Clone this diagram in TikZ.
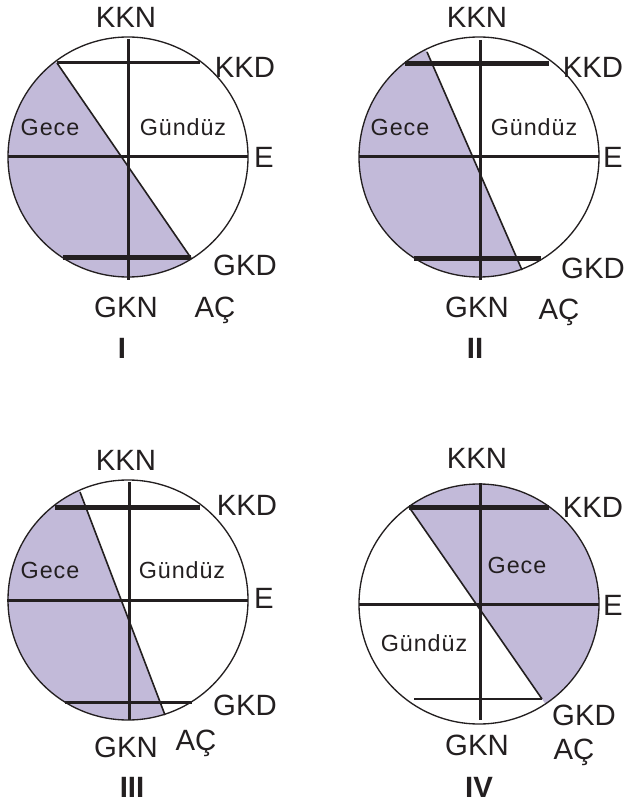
\documentclass[tikz,border=0pt]{standalone}
\usepackage{fontspec}
\setmainfont{Liberation Sans}
\usetikzlibrary{calc}
\definecolor{night}{RGB}{194,186,217}
\definecolor{ink}{RGB}{35,31,32}
\tikzset{
  lbl/.style={font=\fontsize{22}{26}\selectfont, text=ink, inner sep=0pt},
  numeral/.style={font=\fontsize{22}{26}\selectfont\bfseries, text=ink, inner sep=0pt},
  zone/.style={font=\fontsize{17.5}{20}\selectfont\addfontfeatures{LetterSpace=4}, text=ink, inner sep=0pt},
  axis/.style={draw=ink, line width=2.25pt},
  tropicthick/.style={draw=ink, line width=3.75pt},
  tropicmid/.style={draw=ink, line width=2.25pt},
  tropicthin/.style={draw=ink, line width=1.1pt},
  term/.style={draw=ink, line width=1.2pt},
  rim/.style={draw=ink, line width=1pt},
}
\begin{document}
\begin{tikzpicture}[x=0.75pt, y=-0.75pt]
\useasboundingbox (0,0) rectangle (625,812);

% ---------- I ----------
\coordinate (cA) at (128,157);
\coordinate (tA1) at (57,63);
\coordinate (tA2) at (191,258);
\begin{scope}
  \clip (cA) circle[radius=120];
  \fill[night] ($(tA1)!-0.4!(tA2)$) -- ($(tA2)!-0.4!(tA1)$) -- ++(-300,0) -- ++(0,-400) -- cycle;
\end{scope}
\draw[term] (tA1) -- (tA2);
\draw[axis] ($(cA)+(-120,0)$) -- ($(cA)+(120,0)$);
\draw[axis] ($(cA)+(0,-118)$) -- ($(cA)+(0,123)$);
\draw[tropicmid] (57,63) -- (200,63);
\draw[tropicthick] (63,258) -- (191,258);
\draw[rim] (cA) circle[radius=120];
\node[lbl] (kknA) at (126,17) {KKN};
\node[lbl] (kkdA) at (245,67) {KKD};
\node[lbl] (eA) at (264,157) {E};
\node[lbl] (gkdA) at (245,265) {GKD};
\node[lbl] (gknA) at (126,307) {GKN};
\node[lbl] (acA) at (215,310) {AÇ};
\node[numeral] (numA) at (122,348) {I};
\node[zone] (geceA) at (50,127) {Gece};
\node[zone] (gunA) at (183,127) {Gündüz};

% ---------- II ----------
\coordinate (cB) at (479,157);
\coordinate (tB1) at (427,52);
\coordinate (tB2) at (522,270);
\begin{scope}
  \clip (cB) circle[radius=120];
  \fill[night] ($(tB1)!-0.4!(tB2)$) -- ($(tB2)!-0.4!(tB1)$) -- ++(-300,0) -- ++(0,-400) -- cycle;
\end{scope}
\draw[term] (tB1) -- (tB2);
\draw[axis] ($(cB)+(-120,0)$) -- ($(cB)+(120,0)$);
\draw[axis] ($(cB)+(1,-117)$) -- ($(cB)+(1,123)$);
\draw[tropicthick] (405,64) -- (549,64);
\draw[tropicthick] (414,259) -- (541,259);
\draw[rim] (cB) circle[radius=120];
\node[lbl] (kknB) at (477,17) {KKN};
\node[lbl] (kkdB) at (593,67) {KKD};
\node[lbl] (eB) at (613,157) {E};
\node[lbl] (gkdB) at (593,268) {GKD};
\node[lbl] (gknB) at (477,307) {GKN};
\node[lbl] (acB) at (559,312) {AÇ};
\node[numeral] (numB) at (475,348) {II};
\node[zone] (geceB) at (400,127) {Gece};
\node[zone] (gunB) at (534,127) {Gündüz};

% ---------- III ----------
\coordinate (cC) at (128,600);
\coordinate (tC1) at (80,492);
\coordinate (tC2) at (165,715);
\begin{scope}
  \clip (cC) circle[radius=120];
  \fill[night] ($(tC1)!-0.4!(tC2)$) -- ($(tC2)!-0.4!(tC1)$) -- ++(-300,0) -- ++(0,-400) -- cycle;
\end{scope}
\draw[term] (tC1) -- (tC2);
\draw[axis] ($(cC)+(-121,0)$) -- ($(cC)+(120,0)$);
\draw[axis] ($(cC)+(1,-118)$) -- ($(cC)+(1,120)$);
\draw[tropicthick] (55,507) -- (200,507);
\draw[tropicmid] (65,702) -- (192,702);
\draw[rim] (cC) circle[radius=120];
\node[lbl] (kknC) at (126,460) {KKN};
\node[lbl] (kkdC) at (247,505) {KKD};
\node[lbl] (eC) at (264,598) {E};
\node[lbl] (gkdC) at (245,705) {GKD};
\node[lbl] (gknC) at (126,747) {GKN};
\node[lbl] (acC) at (196,743) {AÇ};
\node[numeral] (numC) at (132,787) {III};
\node[zone] (geceC) at (50,570) {Gece};
\node[zone] (gunC) at (182,570) {Gündüz};

% ---------- IV ----------
\coordinate (cD) at (479,604);
\coordinate (tD1) at (409,507);
\coordinate (tD2) at (542,699);
\begin{scope}
  \clip (cD) circle[radius=120];
  \fill[night] ($(tD1)!-0.4!(tD2)$) -- ($(tD2)!-0.4!(tD1)$) -- ++(300,0) -- ++(0,-400) -- cycle;
\end{scope}
\draw[term] (tD1) -- (tD2);
\draw[axis] ($(cD)+(-120,0)$) -- ($(cD)+(120,0)$);
\draw[axis] ($(cD)+(1,-121)$) -- ($(cD)+(1,116)$);
\draw[tropicthick] (409,507) -- (549,507);
\draw[tropicthin] (414,699) -- (542,699);
\draw[rim] (cD) circle[radius=120];
\node[lbl] (kknD) at (477,458) {KKN};
\node[lbl] (kkdD) at (593,507) {KKD};
\node[lbl] (eD) at (613,605) {E};
\node[lbl] (gkdD) at (584,715) {GKD};
\node[lbl] (gknD) at (477,745) {GKN};
\node[lbl] (acD) at (574,752) {AÇ};
\node[numeral] (numD) at (479,787) {IV};
\node[zone] (geceD) at (517,565) {Gece};
\node[zone] (gunD) at (424,643) {Gündüz};
\end{tikzpicture}
\end{document}
